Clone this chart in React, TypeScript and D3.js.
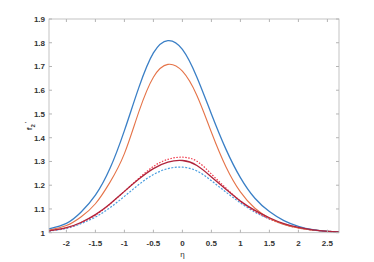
import React, { useRef, useEffect } from "react"
import * as d3 from "d3"

// eta grid the curves were read on
const eta = [-2.3, -2, -1.75, -1.5, -1.25, -1, -0.75, -0.5, -0.25, 0, 0.25, 0.5, 0.75, 1, 1.25, 1.5, 1.75, 2, 2.25, 2.5, 2.7]

const blueSolid = [1.016, 1.039, 1.086, 1.158, 1.27, 1.43, 1.612, 1.757, 1.809, 1.772, 1.655, 1.5, 1.352, 1.232, 1.145, 1.089, 1.051, 1.027, 1.013, 1.006, 1.003]
const orangeSolid = [1.011, 1.03, 1.066, 1.122, 1.212, 1.333, 1.51, 1.655, 1.709, 1.68, 1.578, 1.423, 1.278, 1.172, 1.103, 1.061, 1.035, 1.02, 1.011, 1.006, 1.003]
const redSolid = [1.008, 1.021, 1.043, 1.076, 1.121, 1.174, 1.226, 1.27, 1.297, 1.304, 1.283, 1.235, 1.183, 1.133, 1.094, 1.063, 1.038, 1.022, 1.012, 1.006, 1.003]
const redDotted = [1.008, 1.02, 1.042, 1.074, 1.12, 1.174, 1.229, 1.279, 1.309, 1.318, 1.301, 1.247, 1.188, 1.133, 1.09, 1.058, 1.035, 1.02, 1.011, 1.006, 1.003]
const blueDotted = [1.007, 1.018, 1.038, 1.066, 1.105, 1.153, 1.203, 1.245, 1.27, 1.276, 1.26, 1.219, 1.171, 1.126, 1.087, 1.058, 1.036, 1.021, 1.011, 1.006, 1.003]

const xTicks = [-2, -1.5, -1, -0.5, 0, 0.5, 1, 1.5, 2, 2.5]
const yTicks = [1, 1.1, 1.2, 1.3, 1.4, 1.5, 1.6, 1.7, 1.8, 1.9]

const series = [
  { values: blueDotted, color: "#4a9ee0", width: 1.2, dash: "2,1.5" },
  { values: redDotted, color: "#f0384a", width: 1.2, dash: "1.5,1.5" },
  { values: orangeSolid, color: "#e57348", width: 1.1, dash: null },
  { values: blueSolid, color: "#3a7fc6", width: 1.3, dash: null },
  { values: redSolid, color: "#b0243c", width: 1.3, dash: null },
]

export default function App() {
  const el = useRef<SVGSVGElement>(null)

  useEffect(function() {
    const w = 374
    const h = 262
    const m = { left: 49, right: 35, top: 19, bottom: 29.3 }
    const svg = d3.select(el.current)
    svg.selectAll("*").remove()

    const x = d3.scaleLinear().domain([-2.3, 2.7]).range([m.left, w - m.right])
    const y = d3.scaleLinear().domain([1, 1.9]).range([h - m.bottom, m.top])
    const font = "Liberation Sans, Arial, sans-serif"
    const frame = "#b4b4b4"

    // curves, natural spline keeps the read points smooth
    const line = d3.line<number>()
      .x((d, i) => x(eta[i]))
      .y(d => y(d))
      .curve(d3.curveNatural)

    series.forEach(s => {
      svg.append("path")
        .attr("d", line(s.values))
        .attr("fill", "none")
        .attr("stroke", s.color)
        .attr("stroke-width", s.width)
        .attr("stroke-dasharray", s.dash)
    })

    // box with inward ticks on all sides (matlab style)
    svg.append("rect")
      .attr("x", m.left).attr("y", m.top)
      .attr("width", w - m.left - m.right).attr("height", h - m.top - m.bottom)
      .attr("fill", "none").attr("stroke", frame).attr("stroke-width", 0.8)

    const tl = 3
    xTicks.forEach(t => {
      svg.append("line").attr("x1", x(t)).attr("x2", x(t))
        .attr("y1", y(1)).attr("y2", y(1) - tl).attr("stroke", frame)
      svg.append("line").attr("x1", x(t)).attr("x2", x(t))
        .attr("y1", y(1.9)).attr("y2", y(1.9) + tl).attr("stroke", frame)
      svg.append("text").attr("x", x(t)).attr("y", y(1) + 13.5)
        .attr("text-anchor", "middle").attr("font-family", font)
        .attr("font-size", 8).attr("font-weight", "bold").attr("fill", "#333")
        .text(t)
    })
    yTicks.forEach(t => {
      svg.append("line").attr("x1", x(-2.3)).attr("x2", x(-2.3) + tl)
        .attr("y1", y(t)).attr("y2", y(t)).attr("stroke", frame)
      svg.append("line").attr("x1", x(2.7)).attr("x2", x(2.7) - tl)
        .attr("y1", y(t)).attr("y2", y(t)).attr("stroke", frame)
      svg.append("text").attr("x", m.left - 4).attr("y", y(t) + 3)
        .attr("text-anchor", "end").attr("font-family", font)
        .attr("font-size", 8).attr("font-weight", "bold").attr("fill", "#333")
        .text(t)
    })

    // axis labels
    svg.append("text").attr("x", x(0)).attr("y", 257)
      .attr("text-anchor", "middle").attr("font-family", font)
      .attr("font-size", 8).attr("fill", "#333").text("η")

    const yl = svg.append("text")
      .attr("transform", "translate(32,126) rotate(-90)")
      .attr("text-anchor", "middle").attr("font-family", font)
      .attr("font-size", 8).attr("font-weight", "bold").attr("fill", "#333")
    yl.append("tspan").text("f")
    yl.append("tspan").attr("font-size", 6).attr("dy", 2.5).text("2")
    yl.append("tspan").attr("font-size", 6).attr("dy", -5.5).attr("dx", 1).text("'")
  }, [])

  return <svg ref={el} width={374} height={262}
    style={{ position: "absolute", left: 0, top: 0, background: "#fff" }} />
}
